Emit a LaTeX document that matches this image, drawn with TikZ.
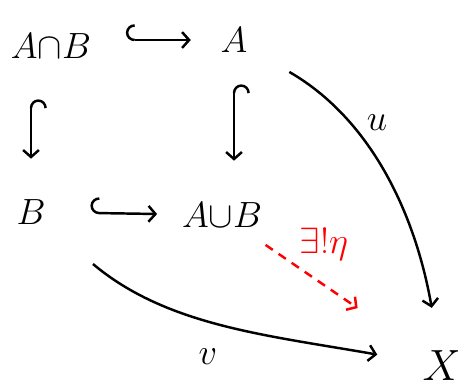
\documentclass[tikz,border=0pt]{standalone}
\usetikzlibrary{arrows.meta}
\tikzset{
  obj/.style={font=\fontsize{22}{24}\selectfont, inner sep=2pt},
  lbl/.style={font=\fontsize{20}{22}\selectfont, inner sep=1pt},
  map/.style={line width=1.4pt, -{Straight Barb[length=4pt,width=9pt]}},
  mono/.style={line width=1.4pt, {Hooks[right,length=5pt,width=18pt]}-{Straight Barb[length=4pt,width=9pt]}},
  uniq/.style={map, red, dash pattern=on 5pt off 4pt},
}
\begin{document}
\begin{tikzpicture}
\useasboundingbox (0,0) rectangle (9.16,-7.78);
% objects
\node[obj] (ab) at (1.02,-0.92) {$A{\cap}B$};
\node[obj] (a) at (4.68,-0.80) {$A$};
\node[obj] (b) at (0.62,-4.24) {$B$};
\node[obj] (aub) at (4.44,-4.30) {$A{\cup}B$};
\node[obj, font=\fontsize{28}{30}\selectfont] (x) at (8.84,-7.32) {$X$};
% inclusions
\draw[mono, shorten <=0.62cm, shorten >=0.52cm] (ab.east |- a) -- (a);
\draw[mono, shorten <=0.74cm, shorten >=0.74cm] (ab.south -| b) -- (b);
\draw[mono, shorten <=0.56cm, shorten >=0.76cm] (a) -- (a |- aub.north);
\draw[mono, shorten <=0.82cm, shorten >=0.42cm] (b) -- (aub);
% maps to X
\draw[map, shorten <=0.88cm, shorten >=0.8cm] (a) to[out=-30, in=100] (x);
\draw[map, shorten <=1.14cm, shorten >=0.84cm] (b) to[out=-40, in=170] (x);
\draw[uniq, shorten <=0.48cm, shorten >=1.48cm] (aub) -- (x);
% labels
\node[lbl] (u) at (7.54,-2.46) {$u$};
\node[lbl] (v) at (4.16,-7.14) {$v$};
\node[lbl, red] (eta) at (6.48,-4.88) {$\exists!\eta$};
\end{tikzpicture}
\end{document}
